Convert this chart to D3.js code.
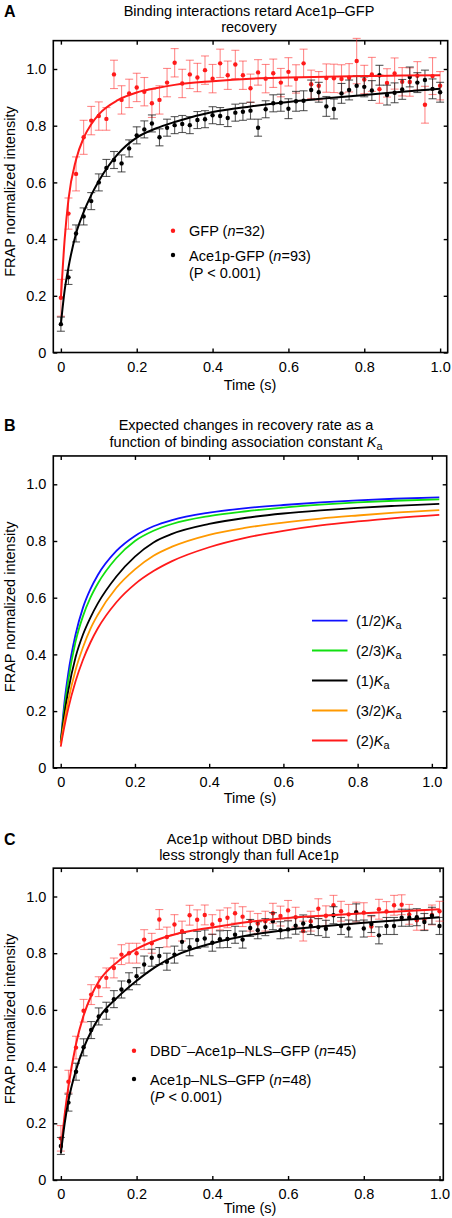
<!DOCTYPE html>
<html><head><meta charset="utf-8">
<script src="https://cdn.jsdelivr.net/npm/d3@7"></script>
<style>body{margin:0;background:#fff} svg{display:block} text{font-family:"Liberation Sans",Arial,sans-serif;}</style>
</head><body><svg id="c" width="452" height="1218"></svg>
<script>
// ---------- data ----------
const times = [0,0.02,0.04,0.06,0.08,0.10,0.12,0.14,0.16,0.18,0.20,0.22,0.24,0.26,0.28,0.30,0.32,0.34,0.36,0.38,0.40,0.42,0.44,0.46,0.48,0.50,0.52,0.54,0.56,0.58,0.60,0.62,0.64,0.66,0.68,0.70,0.72,0.74,0.76,0.78,0.80,0.82,0.84,0.86,0.88,0.90,0.92,0.94,0.96,0.98,1.00];

const gfpA = [0.193,0.49,0.63,0.759,0.818,0.834,0.824,0.981,0.891,0.914,0.935,0.92,0.879,0.891,0.952,1.022,0.949,0.981,0.97,0.996,0.966,1.02,0.978,1.016,0.978,0.932,0.988,0.966,0.985,0.952,0.99,0.965,1.02,0.946,0.941,0.968,0.967,0.965,0.969,1.028,0.963,0.981,0.929,0.951,0.984,0.955,0.954,0.976,0.874,0.975,0.941];
const gfpAErr = [0.065,0.055,0.06,0.06,0.05,0.05,0.04,0.05,0.05,0.05,0.05,0.05,0.05,0.05,0.05,0.05,0.05,0.05,0.05,0.05,0.05,0.05,0.05,0.05,0.05,0.05,0.045,0.05,0.05,0.05,0.05,0.05,0.05,0.05,0.05,0.05,0.05,0.05,0.05,0.08,0.05,0.06,0.05,0.05,0.055,0.05,0.05,0.05,0.065,0.065,0.05];
const ace1A = [0.10,0.265,0.42,0.48,0.534,0.60,0.651,0.679,0.667,0.72,0.766,0.787,0.808,0.759,0.793,0.802,0.806,0.802,0.82,0.823,0.837,0.834,0.827,0.846,0.849,0.853,0.793,0.858,0.879,0.881,0.86,0.886,0.888,0.926,0.918,0.868,0.859,0.914,0.926,0.941,0.937,0.924,0.978,0.908,0.916,0.928,0.972,0.952,0.961,0.93,0.918];
const ace1AErr = [0.025,0.025,0.03,0.03,0.03,0.03,0.03,0.03,0.03,0.03,0.03,0.03,0.03,0.03,0.03,0.03,0.03,0.03,0.03,0.03,0.03,0.03,0.03,0.03,0.03,0.03,0.03,0.03,0.03,0.03,0.035,0.035,0.035,0.035,0.035,0.035,0.035,0.035,0.035,0.035,0.035,0.035,0.035,0.035,0.035,0.035,0.035,0.035,0.035,0.035,0.035];

const dbdC = [0.147,0.347,0.467,0.597,0.654,0.682,0.713,0.748,0.795,0.80,0.80,0.848,0.835,0.919,0.857,0.901,0.878,0.934,0.918,0.935,0.901,0.917,0.925,0.941,0.929,0.913,0.905,0.913,0.941,0.931,0.951,0.927,0.878,0.913,0.957,0.932,0.969,0.948,0.937,0.945,0.943,0.894,0.955,0.947,0.969,0.971,0.937,0.916,0.918,0.935,0.948];
const dbdCErr = [0.045,0.04,0.04,0.04,0.035,0.035,0.035,0.035,0.035,0.035,0.035,0.035,0.035,0.035,0.035,0.035,0.035,0.035,0.035,0.035,0.035,0.035,0.035,0.035,0.035,0.035,0.035,0.035,0.035,0.035,0.035,0.035,0.035,0.035,0.035,0.035,0.035,0.035,0.035,0.035,0.035,0.035,0.035,0.035,0.035,0.035,0.035,0.035,0.035,0.035,0.035];
const nlsC = [0.12,0.273,0.382,0.468,0.529,0.577,0.597,0.638,0.672,0.701,0.719,0.76,0.784,0.79,0.77,0.795,0.84,0.821,0.847,0.852,0.837,0.849,0.85,0.865,0.848,0.889,0.881,0.892,0.913,0.881,0.884,0.897,0.905,0.896,0.892,0.886,0.934,0.896,0.887,0.944,0.887,0.903,0.863,0.896,0.896,0.925,0.925,0.927,0.91,0.932,0.896];
const nlsCErr = [0.03,0.03,0.03,0.03,0.03,0.03,0.03,0.03,0.03,0.03,0.03,0.03,0.03,0.03,0.03,0.03,0.03,0.03,0.03,0.03,0.03,0.03,0.03,0.03,0.03,0.03,0.03,0.03,0.03,0.03,0.03,0.03,0.03,0.03,0.03,0.03,0.03,0.03,0.03,0.03,0.03,0.03,0.03,0.03,0.03,0.03,0.03,0.03,0.03,0.03,0.03];

const fitT = [0,0.01,0.02,0.04,0.06,0.08,0.1,0.15,0.2,0.25,0.3,0.4,0.5,0.6,0.7,0.8,0.9,1.0];
const fitGfpA = [0.19,0.40,0.54,0.68,0.757,0.805,0.84,0.89,0.917,0.932,0.944,0.957,0.966,0.97,0.973,0.975,0.977,0.978];
const fitAce1A = [0.10,0.22,0.30,0.42,0.495,0.555,0.605,0.70,0.758,0.79,0.813,0.848,0.868,0.884,0.897,0.908,0.92,0.93];
const fitDbdC = [0.11,0.23,0.33,0.48,0.58,0.65,0.70,0.77,0.815,0.845,0.866,0.891,0.911,0.924,0.933,0.941,0.948,0.955];
const fitNlsC = [0.094,0.2,0.28,0.388,0.465,0.524,0.571,0.645,0.703,0.752,0.79,0.835,0.864,0.883,0.896,0.907,0.917,0.927];

const fitTB = [0,0.01,0.02,0.04,0.06,0.08,0.1,0.15,0.2,0.25,0.3,0.4,0.5,0.6,0.7,0.8,0.9,1.02];
const kHalf = [0.09,0.23,0.33,0.47,0.565,0.63,0.68,0.765,0.818,0.852,0.874,0.90,0.916,0.927,0.936,0.943,0.949,0.954];
const kTwoThirds = [0.09,0.21,0.305,0.445,0.535,0.60,0.65,0.74,0.80,0.836,0.86,0.888,0.905,0.918,0.928,0.936,0.942,0.947];
const kOne = [0.09,0.19,0.27,0.39,0.47,0.53,0.58,0.675,0.745,0.795,0.825,0.86,0.882,0.897,0.908,0.917,0.924,0.931];
const kThreeHalves = [0.085,0.165,0.235,0.345,0.425,0.49,0.54,0.635,0.70,0.748,0.78,0.822,0.847,0.865,0.879,0.89,0.90,0.909];
const kTwo = [0.075,0.146,0.207,0.305,0.381,0.442,0.492,0.584,0.648,0.694,0.729,0.778,0.812,0.836,0.855,0.869,0.881,0.892];
const kLabels = ["(1/2)","(2/3)","(1)","(3/2)","(2)"];

const xTicks = [0,0.2,0.4,0.6,0.8,1.0];
const yTicks = [0,0.2,0.4,0.6,0.8,1.0];

// ---------- drawing ----------
const svg = d3.select("#c");
const FS = 14.5;
const RED = "#ff1a1a";
const fmt = d => d === 0 ? "0" : d3.format(".1f")(d);

function frame(c) {
  const x = d3.scaleLinear().domain(c.xdom).range([c.left, c.right]);
  const y = d3.scaleLinear().domain([0, 1.1]).range([c.bottom, c.bottom - 1.1 * 283.5]);
  const g = svg.append("g");
  const style = sel => {
    sel.select(".domain").remove();
    sel.selectAll(".tick line").attr("stroke", "#000").attr("stroke-width", 1.4);
    sel.selectAll(".tick text").attr("font-size", FS).attr("fill", "#000")
      .attr("font-family", '"Liberation Sans",Arial,sans-serif');
  };
  g.append("g").attr("transform", `translate(0,${c.bottom})`)
    .call(d3.axisBottom(x).tickValues(xTicks).tickSize(-4).tickPadding(9).tickFormat(fmt)).call(style);
  g.append("g").attr("transform", `translate(0,${y.range()[1]})`)
    .call(d3.axisTop(x).tickValues(xTicks).tickSize(-4).tickFormat("")).call(style);
  g.append("g").attr("transform", `translate(${c.left},0)`)
    .call(d3.axisLeft(y).tickValues(yTicks).tickSize(-4).tickPadding(7).tickFormat(fmt)).call(style);
  g.append("g").attr("transform", `translate(${c.right},0)`)
    .call(d3.axisRight(y).tickValues(yTicks).tickSize(-4).tickFormat("")).call(style);
  g.append("rect").attr("x", c.left).attr("y", y.range()[1])
    .attr("width", c.right - c.left).attr("height", c.bottom - y.range()[1])
    .attr("fill", "none").attr("stroke", "#000").attr("stroke-width", 1.6);
  svg.append("text").attr("x", 4).attr("y", c.letterY).text(c.letter)
    .attr("font-family", '"Liberation Serif","Times New Roman",serif').attr("font-weight", "bold").attr("font-size", 16);
  const cy = (c.bottom + y.range()[1]) / 2 - 5;
  svg.append("text").attr("transform", `translate(14.5,${cy}) rotate(-90)`).attr("text-anchor", "middle")
    .attr("font-size", FS).text("FRAP normalized intensity");
  svg.append("text").attr("x", 250).attr("y", c.xTitleY).attr("text-anchor", "middle")
    .attr("font-size", FS).text("Time (s)");
  return {x, y};
}

function scatter(sc, vals, errs, color, barColor, barOpacity) {
  const g = svg.append("g");
  const data = times.map((t, i) => ({t, v: vals[i], e: errs[i]}));
  const gb = g.append("g").attr("stroke", barColor).attr("stroke-opacity", barOpacity).attr("stroke-width", 1.1);
  gb.selectAll("line.v").data(data).join("line")
    .attr("x1", d => sc.x(d.t)).attr("x2", d => sc.x(d.t))
    .attr("y1", d => sc.y(d.v - d.e)).attr("y2", d => sc.y(d.v + d.e));
  gb.selectAll("line.t").data(data).join("line").attr("class", "t")
    .attr("x1", d => sc.x(d.t) - 4).attr("x2", d => sc.x(d.t) + 4)
    .attr("y1", d => sc.y(d.v + d.e)).attr("y2", d => sc.y(d.v + d.e));
  gb.selectAll("line.b").data(data).join("line").attr("class", "b")
    .attr("x1", d => sc.x(d.t) - 4).attr("x2", d => sc.x(d.t) + 4)
    .attr("y1", d => sc.y(d.v - d.e)).attr("y2", d => sc.y(d.v - d.e));
  return () => g.append("g").selectAll("circle").data(data).join("circle")
    .attr("cx", d => sc.x(d.t)).attr("cy", d => sc.y(d.v)).attr("r", 2.2).attr("fill", color);
}

function curve(sc, tt, vals, color, w) {
  const line = d3.line().x((d, i) => sc.x(tt[i])).y(d => sc.y(d)).curve(d3.curveMonotoneX);
  svg.append("path").attr("d", line(vals)).attr("fill", "none").attr("stroke", color).attr("stroke-width", w);
}

function addParts(t, parts) {
  parts.forEach(p => {
    const s = t.append("tspan").text(p.t);
    if (p.i) s.attr("font-style", "italic");
    if (p.sub) s.attr("font-size", FS * 0.75).attr("dy", 3.5);
    if (p.sup) s.attr("font-size", FS * 0.75).attr("dy", -6);
    if (p.back) s.attr("dy", p.back);
  });
}
function title(lines) {
  lines.forEach(l => {
    const t = svg.append("text").attr("x", l.x).attr("y", l.y).attr("text-anchor", "middle").attr("font-size", FS);
    addParts(t, l.parts);
  });
}
function legText(x, y, parts) {
  const t = svg.append("text").attr("x", x).attr("y", y).attr("font-size", FS);
  addParts(t, parts);
}

// ---------- Panel A ----------
const A = frame({left: 53.3, right: 447.7, xdom: [-0.02, 1.02], bottom: 352.5, letter: "A", letterY: 17, xTitleY: 390});
title([{x: 249, y: 15.5, parts: [{t: "Binding interactions retard Ace1p–GFP"}]}, {x: 249, y: 31.5, parts: [{t: "recovery"}]}]);
const dotsGfpA = scatter(A, gfpA, gfpAErr, RED, "#ff2a2a", 0.55);
const dotsAceA = scatter(A, ace1A, ace1AErr, "#000", "#222", 0.75);
curve(A, fitT, fitGfpA, RED, 2);
curve(A, fitT, fitAce1A, "#000", 2);
dotsGfpA(); dotsAceA();
svg.append("circle").attr("cx", 173).attr("cy", 230.7).attr("r", 2.2).attr("fill", RED);
svg.append("circle").attr("cx", 173).attr("cy", 255).attr("r", 2.2).attr("fill", "#000");
legText(189, 236, [{t: "GFP ("}, {t: "n", i: 1}, {t: "=32)"}]);
legText(189, 260.5, [{t: "Ace1p-GFP ("}, {t: "n", i: 1}, {t: "=93)"}]);
legText(189, 277.5, [{t: "(P < 0.001)"}]);

// ---------- Panel B ----------
const B = frame({left: 53.3, right: 446.7, xdom: [-0.02, 1.04], bottom: 767.8, letter: "B", letterY: 431, xTitleY: 803});
title([{x: 246, y: 430, parts: [{t: "Expected changes in recovery rate as a"}]},
       {x: 246, y: 446.5, parts: [{t: "function of binding association constant "}, {t: "K", i: 1}, {t: "a", sub: 1}]}]);
const kSeries = [kHalf, kTwoThirds, kOne, kThreeHalves, kTwo];
const kColors = ["#1010ff", "#10e010", "#000000", "#ff9900", "#ff1a1a"];
kSeries.forEach((s, i) => curve(B, fitTB, s, kColors[i], 1.8));
const legY = [620.7, 650.5, 680.5, 710.5, 740.5];
kLabels.forEach((lab, i) => {
  svg.append("line").attr("x1", 312).attr("x2", 347.5).attr("y1", legY[i]).attr("y2", legY[i])
    .attr("stroke", kColors[i]).attr("stroke-width", 1.8);
  legText(356, legY[i] + 5, [{t: lab}, {t: "K", i: 1}, {t: "a", sub: 1}]);
});

// ---------- Panel C ----------
const C = frame({left: 53.3, right: 443.3, xdom: [-0.02, 1.01], bottom: 1180, letter: "C", letterY: 845, xTitleY: 1213});
title([{x: 249, y: 843.5, parts: [{t: "Ace1p without DBD binds"}]}, {x: 249, y: 859.5, parts: [{t: "less strongly than full Ace1p"}]}]);
const dotsDbd = scatter(C, dbdC, dbdCErr, RED, "#ff2a2a", 0.55);
const dotsNls = scatter(C, nlsC, nlsCErr, "#000", "#222", 0.75);
curve(C, fitT, fitDbdC, RED, 2);
curve(C, fitT, fitNlsC, "#000", 2);
dotsDbd(); dotsNls();
svg.append("circle").attr("cx", 134).attr("cy", 1050.7).attr("r", 2.2).attr("fill", RED);
svg.append("circle").attr("cx", 134).attr("cy", 1079).attr("r", 2.2).attr("fill", "#000");
legText(150, 1056, [{t: "DBD"}, {t: "−", sup: 1}, {t: "–Ace1p–NLS–GFP (", back: 6}, {t: "n", i: 1}, {t: "=45)"}]);
legText(150, 1084.5, [{t: "Ace1p–NLS–GFP ("}, {t: "n", i: 1}, {t: "=48)"}]);
legText(150, 1101.5, [{t: "("}, {t: "P", i: 1}, {t: " < 0.001)"}]);
</script></body></html>
